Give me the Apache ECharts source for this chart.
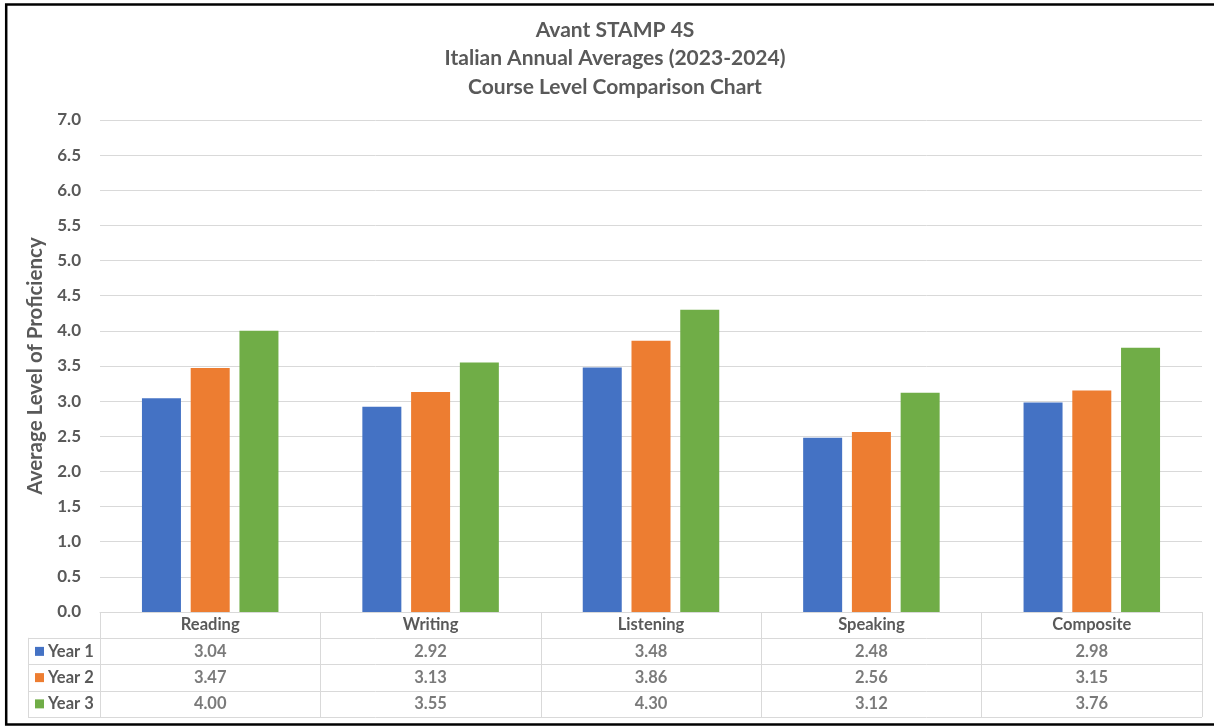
<!DOCTYPE html>
<html>
<head>
<meta charset="utf-8">
<script src="https://cdn.jsdelivr.net/npm/echarts@6/dist/echarts.min.js"></script>
<style>
html,body{margin:0;padding:0;background:#fff;}
#chart{width:1214px;height:726px;}
</style>
</head>
<body>
<div id="chart"></div>
<script>
const categories = ['Reading', 'Writing', 'Listening', 'Speaking', 'Composite'];
const seriesNames = ['Year 1', 'Year 2', 'Year 3'];
const year1 = [3.04, 2.92, 3.48, 2.48, 2.98];
const year2 = [3.47, 3.13, 3.86, 2.56, 3.15];
const year3 = [4.00, 3.55, 4.30, 3.12, 3.76];
const titleLines = ['Avant STAMP 4S', 'Italian Annual Averages (2023-2024)', 'Course Level Comparison Chart'];
const yAxisName = 'Average Level of Proficiency';

const colors = ['#4472C4', '#ED7D31', '#70AD47'];
const allValues = [year1, year2, year3];
const FONT = 'Lato, "Liberation Sans", sans-serif';
const TXT = '#595959';
const LINE = '#d9d9d9';

const chart = echarts.init(document.getElementById('chart'), null, {renderer: 'canvas'});

const rich = {};
colors.forEach((c, i) => { rich['k' + i] = {width: 9, height: 9, backgroundColor: c}; });

const barSeries = seriesNames.map((name, k) => ({
  name: name,
  type: 'bar',
  xAxisIndex: 0,
  yAxisIndex: 0,
  barWidth: 39,
  barGap: '25%',
  itemStyle: {color: colors[k]},
  data: allValues[k],
  silent: true
}));

const tableSeries = seriesNames.map((name, k) => ({
  name: name + ' table',
  type: 'scatter',
  xAxisIndex: 1,
  yAxisIndex: 1,
  symbolSize: 1,
  itemStyle: {color: 'rgba(0,0,0,0)'},
  silent: true,
  label: {
    show: true,
    position: 'inside',
    formatter: p => p.value[2].toFixed(2),
    fontFamily: FONT, fontWeight: 'bold', fontSize: 16.5, color: TXT
  },
  data: categories.map((c, i) => [c, name, allValues[k][i]])
}));

const option = {
  animation: false,
  backgroundColor: '#fff',
  title: [
    {text: titleLines[0], left: 610, top: 15, textAlign: 'center'},
    {text: titleLines[1], left: 610, top: 43, textAlign: 'center'},
    {text: titleLines[2], left: 610, top: 71.5, textAlign: 'center'}
  ].map(t => Object.assign(t, {textStyle: {fontFamily: FONT, fontWeight: 'bold', fontSize: 21, color: TXT}})),
  grid: [
    {left: 100, right: 12, top: 120, bottom: 114, containLabel: false},
    {left: 100, right: 12, top: 612, height: 105, containLabel: false},
    {left: 28, width: 72, top: 638.25, height: 78.75, containLabel: false}
  ],
  xAxis: [
    {type: 'category', gridIndex: 0, data: categories, axisLine: {show: false}, axisTick: {show: false}, axisLabel: {show: false}},
    {type: 'category', gridIndex: 1, data: categories, position: 'top',
      axisLine: {show: true, lineStyle: {color: LINE, width: 1}}, axisTick: {show: false},
      axisLabel: {inside: true, margin: 4, interval: 0, fontFamily: FONT, fontWeight: 'bold', fontSize: 16.5, color: TXT},
      splitLine: {show: true, interval: 0, lineStyle: {color: LINE, width: 1}}},
    {type: 'value', gridIndex: 2, show: false}
  ],
  yAxis: [
    {type: 'value', gridIndex: 0, min: 0, max: 7, interval: 0.5,
      axisLine: {show: false}, axisTick: {show: false},
      splitLine: {lineStyle: {color: LINE, width: 1}},
      axisLabel: {margin: 19, formatter: v => v.toFixed(1), fontFamily: FONT, fontWeight: 'bold', fontSize: 17, color: TXT},
      name: yAxisName, nameLocation: 'middle', nameGap: 53, nameRotate: 90,
      nameTextStyle: {fontFamily: FONT, fontWeight: 'bold', fontSize: 20.5, color: TXT}},
    {type: 'category', gridIndex: 1, inverse: true, data: [''].concat(seriesNames),
      axisLine: {show: false}, axisTick: {show: false}, axisLabel: {show: false},
      splitLine: {show: true, interval: 0, lineStyle: {color: LINE, width: 1}}},
    {type: 'category', gridIndex: 2, inverse: true, data: seriesNames,
      axisLine: {show: true, lineStyle: {color: LINE, width: 1}}, axisTick: {show: false},
      splitLine: {show: true, interval: 0, lineStyle: {color: LINE, width: 1}},
      axisLabel: {inside: true, margin: 7, interval: 0,
        formatter: (v, i) => '{k' + i + '|} ' + v,
        rich: rich, fontFamily: FONT, fontWeight: 'bold', fontSize: 16.5, color: TXT}}
  ],
  series: barSeries.concat(tableSeries),
  graphic: [
    {type: 'rect', silent: true, z: 100,
      shape: {x: 6.2, y: 4.5, width: 1400, height: 720},
      style: {fill: 'none', stroke: '#000', lineWidth: 2.5}}
  ]
};
chart.setOption(option);
</script>
</body>
</html>
